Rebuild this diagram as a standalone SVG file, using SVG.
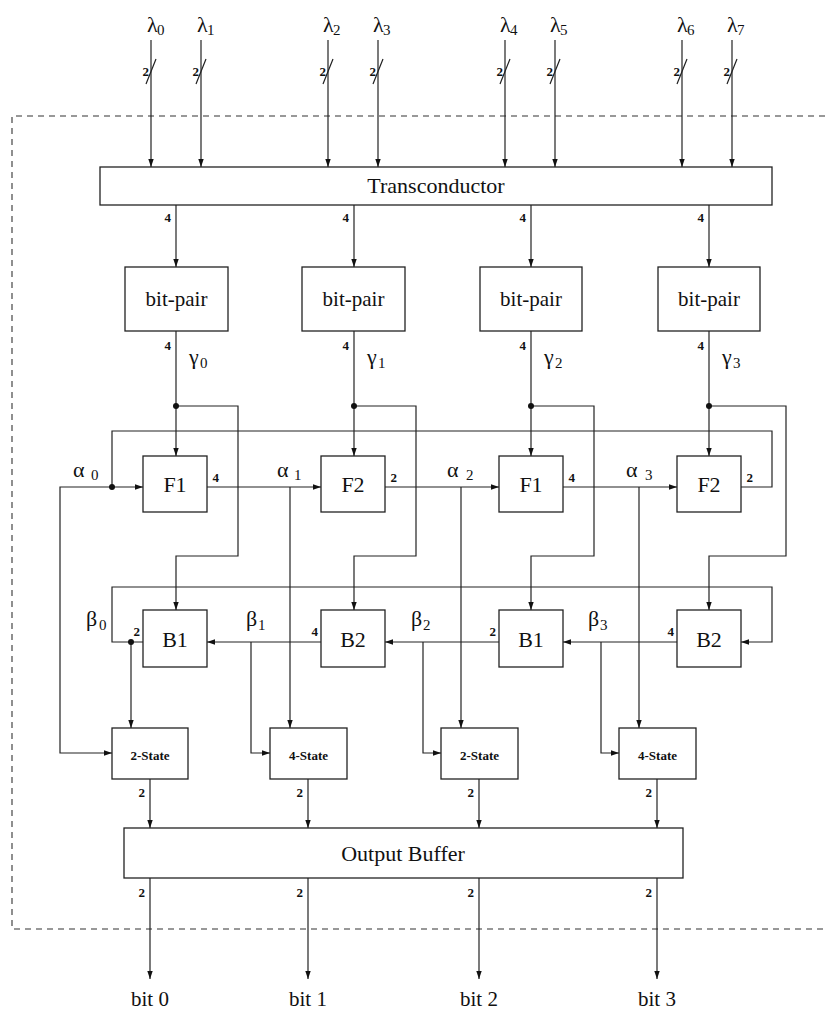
<svg xmlns="http://www.w3.org/2000/svg" width="825" height="1013" viewBox="0 0 825 1013">
<style>
.box{fill:#fff;stroke:#222;stroke-width:1.3}
.ln{fill:none;stroke:#222;stroke-width:1.2}
.dash{fill:none;stroke:#333;stroke-width:1.1;stroke-dasharray:6,5}
.lbl{font-size:21px;text-anchor:middle;fill:#111}
.big{font-size:22px;text-anchor:middle;fill:#111}
.st{font-size:13px;font-weight:bold;text-anchor:middle;fill:#111}
.n{font-size:13px;font-weight:bold;text-anchor:end;fill:#111}
.g{font-size:22px;fill:#111}
.sub{font-size:15px;fill:#111}
.dot{fill:#111}
</style>
<defs>
<marker id="ar" markerUnits="userSpaceOnUse" markerWidth="9" markerHeight="7" refX="8" refY="3.5" orient="auto">
<path d="M0,0.8 L8,3.5 L0,6.2 Z" fill="#111"/>
</marker>
</defs>

<g id="boundary">
<path class="dash" d="M825,116 H12 V929 H825"/>
</g>

<g id="connectors">
<path class="ln" marker-end="url(#ar)" d="M151,40 V167"/>
<path class="ln" marker-end="url(#ar)" d="M201,40 V167"/>
<path class="ln" marker-end="url(#ar)" d="M328,40 V167"/>
<path class="ln" marker-end="url(#ar)" d="M378,40 V167"/>
<path class="ln" marker-end="url(#ar)" d="M505,40 V167"/>
<path class="ln" marker-end="url(#ar)" d="M555,40 V167"/>
<path class="ln" marker-end="url(#ar)" d="M682,40 V167"/>
<path class="ln" marker-end="url(#ar)" d="M732,40 V167"/>
<path class="ln" d="M146,84 L156,59 M196,84 L206,59 M323,84 L333,59 M373,84 L383,59 M500,84 L510,59 M550,84 L560,59 M677,84 L687,59 M727,84 L737,59"/>
<path class="ln" marker-end="url(#ar)" d="M176,205 V267"/>
<path class="ln" marker-end="url(#ar)" d="M354,205 V267"/>
<path class="ln" marker-end="url(#ar)" d="M531,205 V267"/>
<path class="ln" marker-end="url(#ar)" d="M709,205 V267"/>
<path class="ln" marker-end="url(#ar)" d="M176,331 V456"/>
<path class="ln" marker-end="url(#ar)" d="M354,331 V456"/>
<path class="ln" marker-end="url(#ar)" d="M531,331 V456"/>
<path class="ln" marker-end="url(#ar)" d="M709,331 V456"/>
<path class="ln" marker-end="url(#ar)" d="M176,406 H238 V556 H176 V610"/>
<path class="ln" marker-end="url(#ar)" d="M354,406 H416 V556 H354 V610"/>
<path class="ln" marker-end="url(#ar)" d="M531,406 H594 V556 H531 V610"/>
<path class="ln" marker-end="url(#ar)" d="M709,406 H786 V556 H709 V610"/>
<path class="ln" marker-end="url(#ar)" d="M741,487 H772 V431 H112 V487 H143"/>
<path class="ln" marker-end="url(#ar)" d="M112,487 H60 V753 H112"/>
<path class="ln" marker-end="url(#ar)" d="M207,487 H321"/>
<path class="ln" marker-end="url(#ar)" d="M290,487 V728"/>
<path class="ln" marker-end="url(#ar)" d="M385,487 H499"/>
<path class="ln" marker-end="url(#ar)" d="M461,487 V728"/>
<path class="ln" marker-end="url(#ar)" d="M563,487 H677"/>
<path class="ln" marker-end="url(#ar)" d="M639,487 V728"/>
<path class="ln" marker-end="url(#ar)" d="M143,642 H112 V587 H772 V642 H741"/>
<path class="ln" marker-end="url(#ar)" d="M131,642 V728"/>
<path class="ln" marker-end="url(#ar)" d="M321,642 H207"/>
<path class="ln" marker-end="url(#ar)" d="M251,642 V753 H270"/>
<path class="ln" marker-end="url(#ar)" d="M499,642 H385"/>
<path class="ln" marker-end="url(#ar)" d="M423,642 V753 H441"/>
<path class="ln" marker-end="url(#ar)" d="M677,642 H563"/>
<path class="ln" marker-end="url(#ar)" d="M601,642 V753 H619"/>
<path class="ln" marker-end="url(#ar)" d="M150,779 V828"/>
<path class="ln" marker-end="url(#ar)" d="M308,779 V828"/>
<path class="ln" marker-end="url(#ar)" d="M479,779 V828"/>
<path class="ln" marker-end="url(#ar)" d="M657,779 V828"/>
<path class="ln" marker-end="url(#ar)" d="M150,878 V979"/>
<path class="ln" marker-end="url(#ar)" d="M308,878 V979"/>
<path class="ln" marker-end="url(#ar)" d="M479,878 V979"/>
<path class="ln" marker-end="url(#ar)" d="M657,878 V979"/>
<circle class="dot" cx="176" cy="406" r="3"/>
<circle class="dot" cx="354" cy="406" r="3"/>
<circle class="dot" cx="531" cy="406" r="3"/>
<circle class="dot" cx="709" cy="406" r="3"/>
<circle class="dot" cx="112" cy="487" r="3"/>
<circle class="dot" cx="131" cy="642" r="3"/>
<text font-family="Liberation Serif, serif" class="n" x="149" y="76">2</text>
<text font-family="Liberation Serif, serif" class="n" x="199" y="76">2</text>
<text font-family="Liberation Serif, serif" class="n" x="326" y="76">2</text>
<text font-family="Liberation Serif, serif" class="n" x="376" y="76">2</text>
<text font-family="Liberation Serif, serif" class="n" x="503" y="76">2</text>
<text font-family="Liberation Serif, serif" class="n" x="553" y="76">2</text>
<text font-family="Liberation Serif, serif" class="n" x="680" y="76">2</text>
<text font-family="Liberation Serif, serif" class="n" x="730" y="76">2</text>
<text font-family="Liberation Serif, serif" class="n" x="171" y="222">4</text>
<text font-family="Liberation Serif, serif" class="n" x="349" y="222">4</text>
<text font-family="Liberation Serif, serif" class="n" x="526" y="222">4</text>
<text font-family="Liberation Serif, serif" class="n" x="704" y="222">4</text>
<text font-family="Liberation Serif, serif" class="n" x="171" y="350">4</text>
<text font-family="Liberation Serif, serif" class="n" x="349" y="350">4</text>
<text font-family="Liberation Serif, serif" class="n" x="526" y="350">4</text>
<text font-family="Liberation Serif, serif" class="n" x="704" y="350">4</text>
<text font-family="Liberation Serif, serif" class="n" x="219" y="482">4</text>
<text font-family="Liberation Serif, serif" class="n" x="397" y="482">2</text>
<text font-family="Liberation Serif, serif" class="n" x="575" y="482">4</text>
<text font-family="Liberation Serif, serif" class="n" x="753" y="482">2</text>
<text font-family="Liberation Serif, serif" class="n" x="140" y="636">2</text>
<text font-family="Liberation Serif, serif" class="n" x="318" y="636">4</text>
<text font-family="Liberation Serif, serif" class="n" x="496" y="636">2</text>
<text font-family="Liberation Serif, serif" class="n" x="674" y="636">4</text>
<text font-family="Liberation Serif, serif" class="n" x="145" y="797">2</text>
<text font-family="Liberation Serif, serif" class="n" x="303" y="797">2</text>
<text font-family="Liberation Serif, serif" class="n" x="474" y="797">2</text>
<text font-family="Liberation Serif, serif" class="n" x="652" y="797">2</text>
<text font-family="Liberation Serif, serif" class="n" x="145" y="897">2</text>
<text font-family="Liberation Serif, serif" class="n" x="303" y="897">2</text>
<text font-family="Liberation Serif, serif" class="n" x="474" y="897">2</text>
<text font-family="Liberation Serif, serif" class="n" x="652" y="897">2</text>
<text font-family="Liberation Serif, serif" class="g" x="147" y="32">λ</text><text font-family="Liberation Serif, serif" class="sub" x="157" y="35">0</text>
<text font-family="Liberation Serif, serif" class="g" x="197" y="32">λ</text><text font-family="Liberation Serif, serif" class="sub" x="207" y="35">1</text>
<text font-family="Liberation Serif, serif" class="g" x="323" y="32">λ</text><text font-family="Liberation Serif, serif" class="sub" x="333" y="35">2</text>
<text font-family="Liberation Serif, serif" class="g" x="373" y="32">λ</text><text font-family="Liberation Serif, serif" class="sub" x="383" y="35">3</text>
<text font-family="Liberation Serif, serif" class="g" x="500" y="32">λ</text><text font-family="Liberation Serif, serif" class="sub" x="510" y="35">4</text>
<text font-family="Liberation Serif, serif" class="g" x="550" y="32">λ</text><text font-family="Liberation Serif, serif" class="sub" x="560" y="35">5</text>
<text font-family="Liberation Serif, serif" class="g" x="677" y="32">λ</text><text font-family="Liberation Serif, serif" class="sub" x="687" y="35">6</text>
<text font-family="Liberation Serif, serif" class="g" x="727" y="32">λ</text><text font-family="Liberation Serif, serif" class="sub" x="737" y="35">7</text>
<text font-family="Liberation Serif, serif" class="g" x="189" y="364">γ</text><text font-family="Liberation Serif, serif" class="sub" x="200" y="368">0</text>
<text font-family="Liberation Serif, serif" class="g" x="367" y="364">γ</text><text font-family="Liberation Serif, serif" class="sub" x="378" y="368">1</text>
<text font-family="Liberation Serif, serif" class="g" x="544" y="364">γ</text><text font-family="Liberation Serif, serif" class="sub" x="555" y="368">2</text>
<text font-family="Liberation Serif, serif" class="g" x="722" y="364">γ</text><text font-family="Liberation Serif, serif" class="sub" x="733" y="368">3</text>
<text font-family="Liberation Serif, serif" class="g" x="73" y="477">α</text><text font-family="Liberation Serif, serif" class="sub" x="91" y="480">0</text>
<text font-family="Liberation Serif, serif" class="g" x="277" y="477">α</text><text font-family="Liberation Serif, serif" class="sub" x="294" y="480">1</text>
<text font-family="Liberation Serif, serif" class="g" x="447" y="477">α</text><text font-family="Liberation Serif, serif" class="sub" x="466" y="480">2</text>
<text font-family="Liberation Serif, serif" class="g" x="626" y="477">α</text><text font-family="Liberation Serif, serif" class="sub" x="645" y="480">3</text>
<text font-family="Liberation Serif, serif" class="g" x="86" y="626">β</text><text font-family="Liberation Serif, serif" class="sub" x="99" y="630">0</text>
<text font-family="Liberation Serif, serif" class="g" x="246" y="626">β</text><text font-family="Liberation Serif, serif" class="sub" x="258" y="630">1</text>
<text font-family="Liberation Serif, serif" class="g" x="411" y="626">β</text><text font-family="Liberation Serif, serif" class="sub" x="423" y="630">2</text>
<text font-family="Liberation Serif, serif" class="g" x="588" y="626">β</text><text font-family="Liberation Serif, serif" class="sub" x="600" y="630">3</text>
<text font-family="Liberation Serif, serif" class="lbl" x="150" y="1006">bit 0</text>
<text font-family="Liberation Serif, serif" class="lbl" x="308" y="1006">bit 1</text>
<text font-family="Liberation Serif, serif" class="lbl" x="479" y="1006">bit 2</text>
<text font-family="Liberation Serif, serif" class="lbl" x="657" y="1006">bit 3</text>
</g>

<g id="transconductor"><rect class="box" x="100" y="167" width="672" height="38"/><text font-family="Liberation Serif, serif" class="big" x="436" y="193">Transconductor</text></g>

<g id="bitpair0"><rect class="box" x="125" y="267" width="103" height="64"/><text font-family="Liberation Serif, serif" class="lbl" x="176.5" y="306">bit-pair</text></g>
<g id="bitpair1"><rect class="box" x="302" y="267" width="103" height="64"/><text font-family="Liberation Serif, serif" class="lbl" x="353.5" y="306">bit-pair</text></g>
<g id="bitpair2"><rect class="box" x="480" y="267" width="102" height="64"/><text font-family="Liberation Serif, serif" class="lbl" x="531" y="306">bit-pair</text></g>
<g id="bitpair3"><rect class="box" x="658" y="267" width="102" height="64"/><text font-family="Liberation Serif, serif" class="lbl" x="709" y="306">bit-pair</text></g>

<g id="F1a"><rect class="box" x="143" y="456" width="64" height="56"/><text font-family="Liberation Serif, serif" class="big" x="175" y="492">F1</text></g>
<g id="F2a"><rect class="box" x="321" y="456" width="64" height="56"/><text font-family="Liberation Serif, serif" class="big" x="353" y="492">F2</text></g>
<g id="F1b"><rect class="box" x="499" y="456" width="64" height="56"/><text font-family="Liberation Serif, serif" class="big" x="531" y="492">F1</text></g>
<g id="F2b"><rect class="box" x="677" y="456" width="64" height="56"/><text font-family="Liberation Serif, serif" class="big" x="709" y="492">F2</text></g>

<g id="B1a"><rect class="box" x="143" y="610" width="64" height="57"/><text font-family="Liberation Serif, serif" class="big" x="175" y="647">B1</text></g>
<g id="B2a"><rect class="box" x="321" y="610" width="64" height="57"/><text font-family="Liberation Serif, serif" class="big" x="353" y="647">B2</text></g>
<g id="B1b"><rect class="box" x="499" y="610" width="64" height="57"/><text font-family="Liberation Serif, serif" class="big" x="531" y="647">B1</text></g>
<g id="B2b"><rect class="box" x="677" y="610" width="64" height="57"/><text font-family="Liberation Serif, serif" class="big" x="709" y="647">B2</text></g>

<g id="state2a"><rect class="box" x="112" y="728" width="76" height="51"/><text font-family="Liberation Serif, serif" class="st" x="150" y="760">2-State</text></g>
<g id="state4a"><rect class="box" x="270" y="728" width="77" height="51"/><text font-family="Liberation Serif, serif" class="st" x="308.5" y="760">4-State</text></g>
<g id="state2b"><rect class="box" x="441" y="728" width="77" height="51"/><text font-family="Liberation Serif, serif" class="st" x="479.5" y="760">2-State</text></g>
<g id="state4b"><rect class="box" x="619" y="728" width="77" height="51"/><text font-family="Liberation Serif, serif" class="st" x="657.5" y="760">4-State</text></g>

<g id="outputbuffer"><rect class="box" x="124" y="828" width="559" height="50"/><text font-family="Liberation Serif, serif" class="big" x="403" y="861">Output Buffer</text></g>
</svg>
